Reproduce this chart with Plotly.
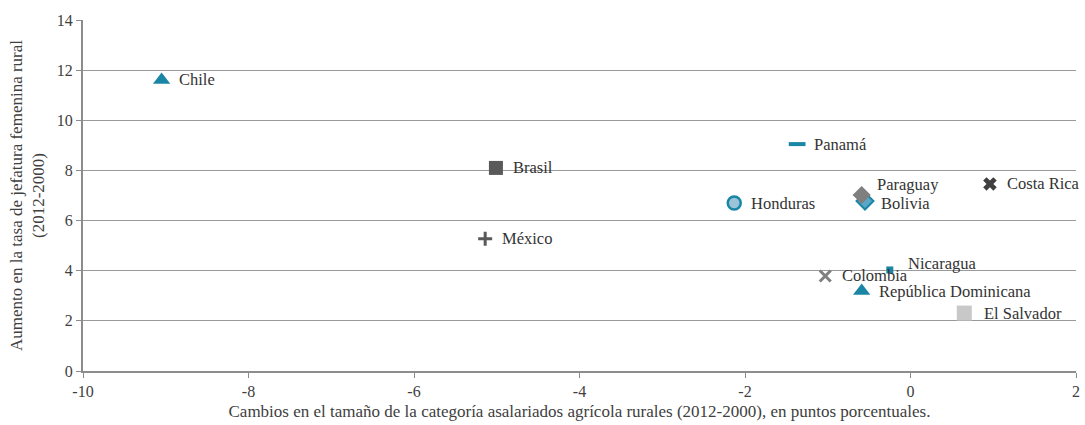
import plotly.graph_objects as go

countries = ["Chile", "Brasil", "México", "Panamá", "Honduras", "Paraguay", "Bolivia",
             "Costa Rica", "Nicaragua", "Colombia", "República Dominicana", "El Salvador"]
x_vals = [-9.05, -5.01, -5.14, -1.37, -2.13, -0.59, -0.55, 0.96, -0.25, -1.03, -0.59, 0.65]
y_vals = [11.61, 8.10, 5.27, 9.05, 6.70, 7.02, 6.78, 7.46, 4.03, 3.79, 3.19, 2.31]
x_ticks = [-10, -8, -6, -4, -2, 0, 2]
y_ticks = [0, 2, 4, 6, 8, 10, 12, 14]

TEAL = "#1A86A6"
DARK = "#595959"
styles = {
    "Chile": dict(symbol="triangle-up", size=15, color=TEAL, line=dict(width=0)),
    "Brasil": dict(symbol="square", size=14, color=DARK, line=dict(width=0)),
    "México": dict(symbol="cross-thin", size=10, color=DARK, line=dict(width=3, color=DARK)),
    "Panamá": dict(symbol="line-ew", size=12, color=TEAL, line=dict(width=4, color=TEAL)),
    "Honduras": dict(symbol="circle", size=13, color="#9CC4D8", line=dict(width=2.5, color=TEAL)),
    "Bolivia": dict(symbol="diamond", size=13, color="#5AA7C7", line=dict(width=2, color=TEAL)),
    "Paraguay": dict(symbol="diamond", size=14, color="#7F7F7F", line=dict(width=0)),
    "Costa Rica": dict(symbol="x", size=12, color="#404040", line=dict(width=0)),
    "Nicaragua": dict(symbol="square", size=7, color=TEAL, line=dict(width=0)),
    "Colombia": dict(symbol="x-thin", size=11, color="#7F7F7F", line=dict(width=3, color="#7F7F7F")),
    "República Dominicana": dict(symbol="triangle-up", size=15, color=TEAL, line=dict(width=0)),
    "El Salvador": dict(symbol="square", size=15, color="#C8C8C8", line=dict(width=0)),
}
label_shift = {"Paraguay": (14, 11), "Nicaragua": (17, 6), "El Salvador": (19, 0), "Bolivia": (15, -2)}

FONT = "Times New Roman, Liberation Serif, DejaVu Serif, serif"
fig = go.Figure()
order = ["Chile", "Brasil", "México", "Panamá", "Honduras", "Bolivia", "Paraguay",
         "Costa Rica", "Nicaragua", "Colombia", "República Dominicana", "El Salvador"]
for name in order:
    i = countries.index(name)
    fig.add_trace(go.Scatter(
        x=[x_vals[i]], y=[y_vals[i]], mode="markers",
        marker=styles[name], showlegend=False, cliponaxis=False, hoverinfo="skip"))
    dx, dy = label_shift.get(name, (16, 0))
    fig.add_annotation(x=x_vals[i], y=y_vals[i], text=name, showarrow=False,
                       xanchor="left", yanchor="middle", xshift=dx, yshift=dy,
                       borderpad=0,
                       font=dict(family=FONT, size=16.5, color="#333333"))

fig.update_layout(
    width=1085, height=425,
    margin=dict(l=83, r=9, t=20, b=54),
    plot_bgcolor="white", paper_bgcolor="white",
    font=dict(family=FONT, size=16, color="#404040"),
)
fig.update_xaxes(range=[-10, 2], tickvals=x_ticks, ticktext=[str(v) for v in x_ticks],
                 showgrid=False, zeroline=False, automargin=False, ticklabeloverflow="allow",
                 showline=True, linecolor="#8C8C8C", linewidth=2,
                 ticks="outside", ticklen=5, tickcolor="#8C8C8C",
                 title=dict(text="Cambios en el tamaño de la categoría asalariados agrícola rurales (2012-2000), en puntos porcentuales.",
                            font=dict(size=17), standoff=6))
fig.update_yaxes(range=[0, 14], tickvals=y_ticks, ticktext=[str(v) for v in y_ticks],
                 showgrid=True, gridcolor="#9A9A9A", gridwidth=1, automargin=False,
                 zeroline=False, showline=True, linecolor="#8C8C8C", linewidth=2,
                 ticks="outside", ticklen=5, tickcolor="#8C8C8C",
                 title=dict(text="Aumento en la tasa de jefatura femenina rural<br>(2012-2000)",
                            font=dict(size=17), standoff=8))

fig.write_html("out.html", config={"displayModeBar": False},
               post_script="document.body.style.margin='0';")
